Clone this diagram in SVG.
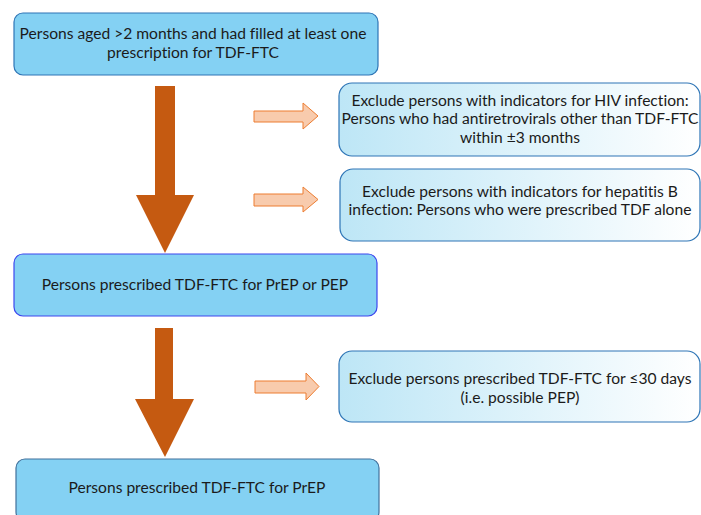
<svg xmlns="http://www.w3.org/2000/svg" width="701" height="515" viewBox="0 0 701 515">
<defs>
<linearGradient id="g" x1="0" y1="0" x2="1" y2="0">
<stop offset="0" stop-color="#bde6f6"/>
<stop offset="1" stop-color="#ffffff"/>
</linearGradient>
</defs>
<style>
.main{fill:#84d1f3;}
.ex{fill:url(#g);stroke:#2e75b6;stroke-width:1.2;}
.t{font-family:Lato,"Open Sans",sans-serif;font-size:15.6px;fill:#1b1b1b;text-anchor:middle;font-variant-ligatures:none;}
.big{fill:#c55a11;}
.sm{fill:#f8cbad;stroke:#ed7d31;stroke-width:1;}
</style>
<rect width="701" height="515" fill="#ffffff"/>
<g id="connectors">
<polygon class="big" points="155,86 175,86 175,195 194,195 165,253 136,195 155,195"/>
<polygon class="big" points="155,328 173,328 173,399 194,399 165,457 135,399 155,399"/>
<polygon class="sm" points="254,111 303,111 303,103 318,116 303,129 303,122 254,122"/>
<polygon class="sm" points="254,194 303,194 303,187 318,199.5 303,212 303,206 254,206"/>
<polygon class="sm" points="255,381 306,381 306,373 319,386.5 306,400 306,393 255,393"/>
</g>
<g id="n1">
<rect class="main" x="14" y="13" width="364" height="62" rx="9" stroke="#2e75b6" stroke-width="1.2"/>
<text class="t" x="193" y="39">Persons aged &gt;2 months and had filled at least one</text>
<text class="t" x="193" y="58">prescription for TDF-FTC</text>
</g>
<g id="n2">
<rect class="main" x="14" y="254" width="363" height="62" rx="9" stroke="#3c46ee" stroke-width="1.2"/>
<text class="t" x="195" y="290">Persons prescribed TDF-FTC for PrEP or PEP</text>
</g>
<g id="n3">
<rect class="main" x="16" y="459" width="363" height="62" rx="9" stroke="#41719c" stroke-width="1.2"/>
<text class="t" x="197" y="493">Persons prescribed TDF-FTC for PrEP</text>
</g>
<g id="e1">
<rect class="ex" x="339" y="83" width="361" height="73" rx="13"/>
<text class="t" x="520" y="106">Exclude persons with indicators for HIV infection:</text>
<text class="t" x="520" y="124">Persons who had antiretrovirals other than TDF-FTC</text>
<text class="t" x="520" y="142.5">within ±3 months</text>
</g>
<g id="e2">
<rect class="ex" x="340" y="169" width="360" height="72" rx="13"/>
<text class="t" x="520" y="196.5">Exclude persons with indicators for hepatitis B</text>
<text class="t" x="520" y="215">infection: Persons who were prescribed TDF alone</text>
</g>
<g id="e3">
<rect class="ex" x="339" y="351" width="361" height="71" rx="13"/>
<text class="t" x="520" y="384">Exclude persons prescribed TDF-FTC for ≤30 days</text>
<text class="t" x="520" y="402.5">(i.e. possible PEP)</text>
</g>
</svg>
